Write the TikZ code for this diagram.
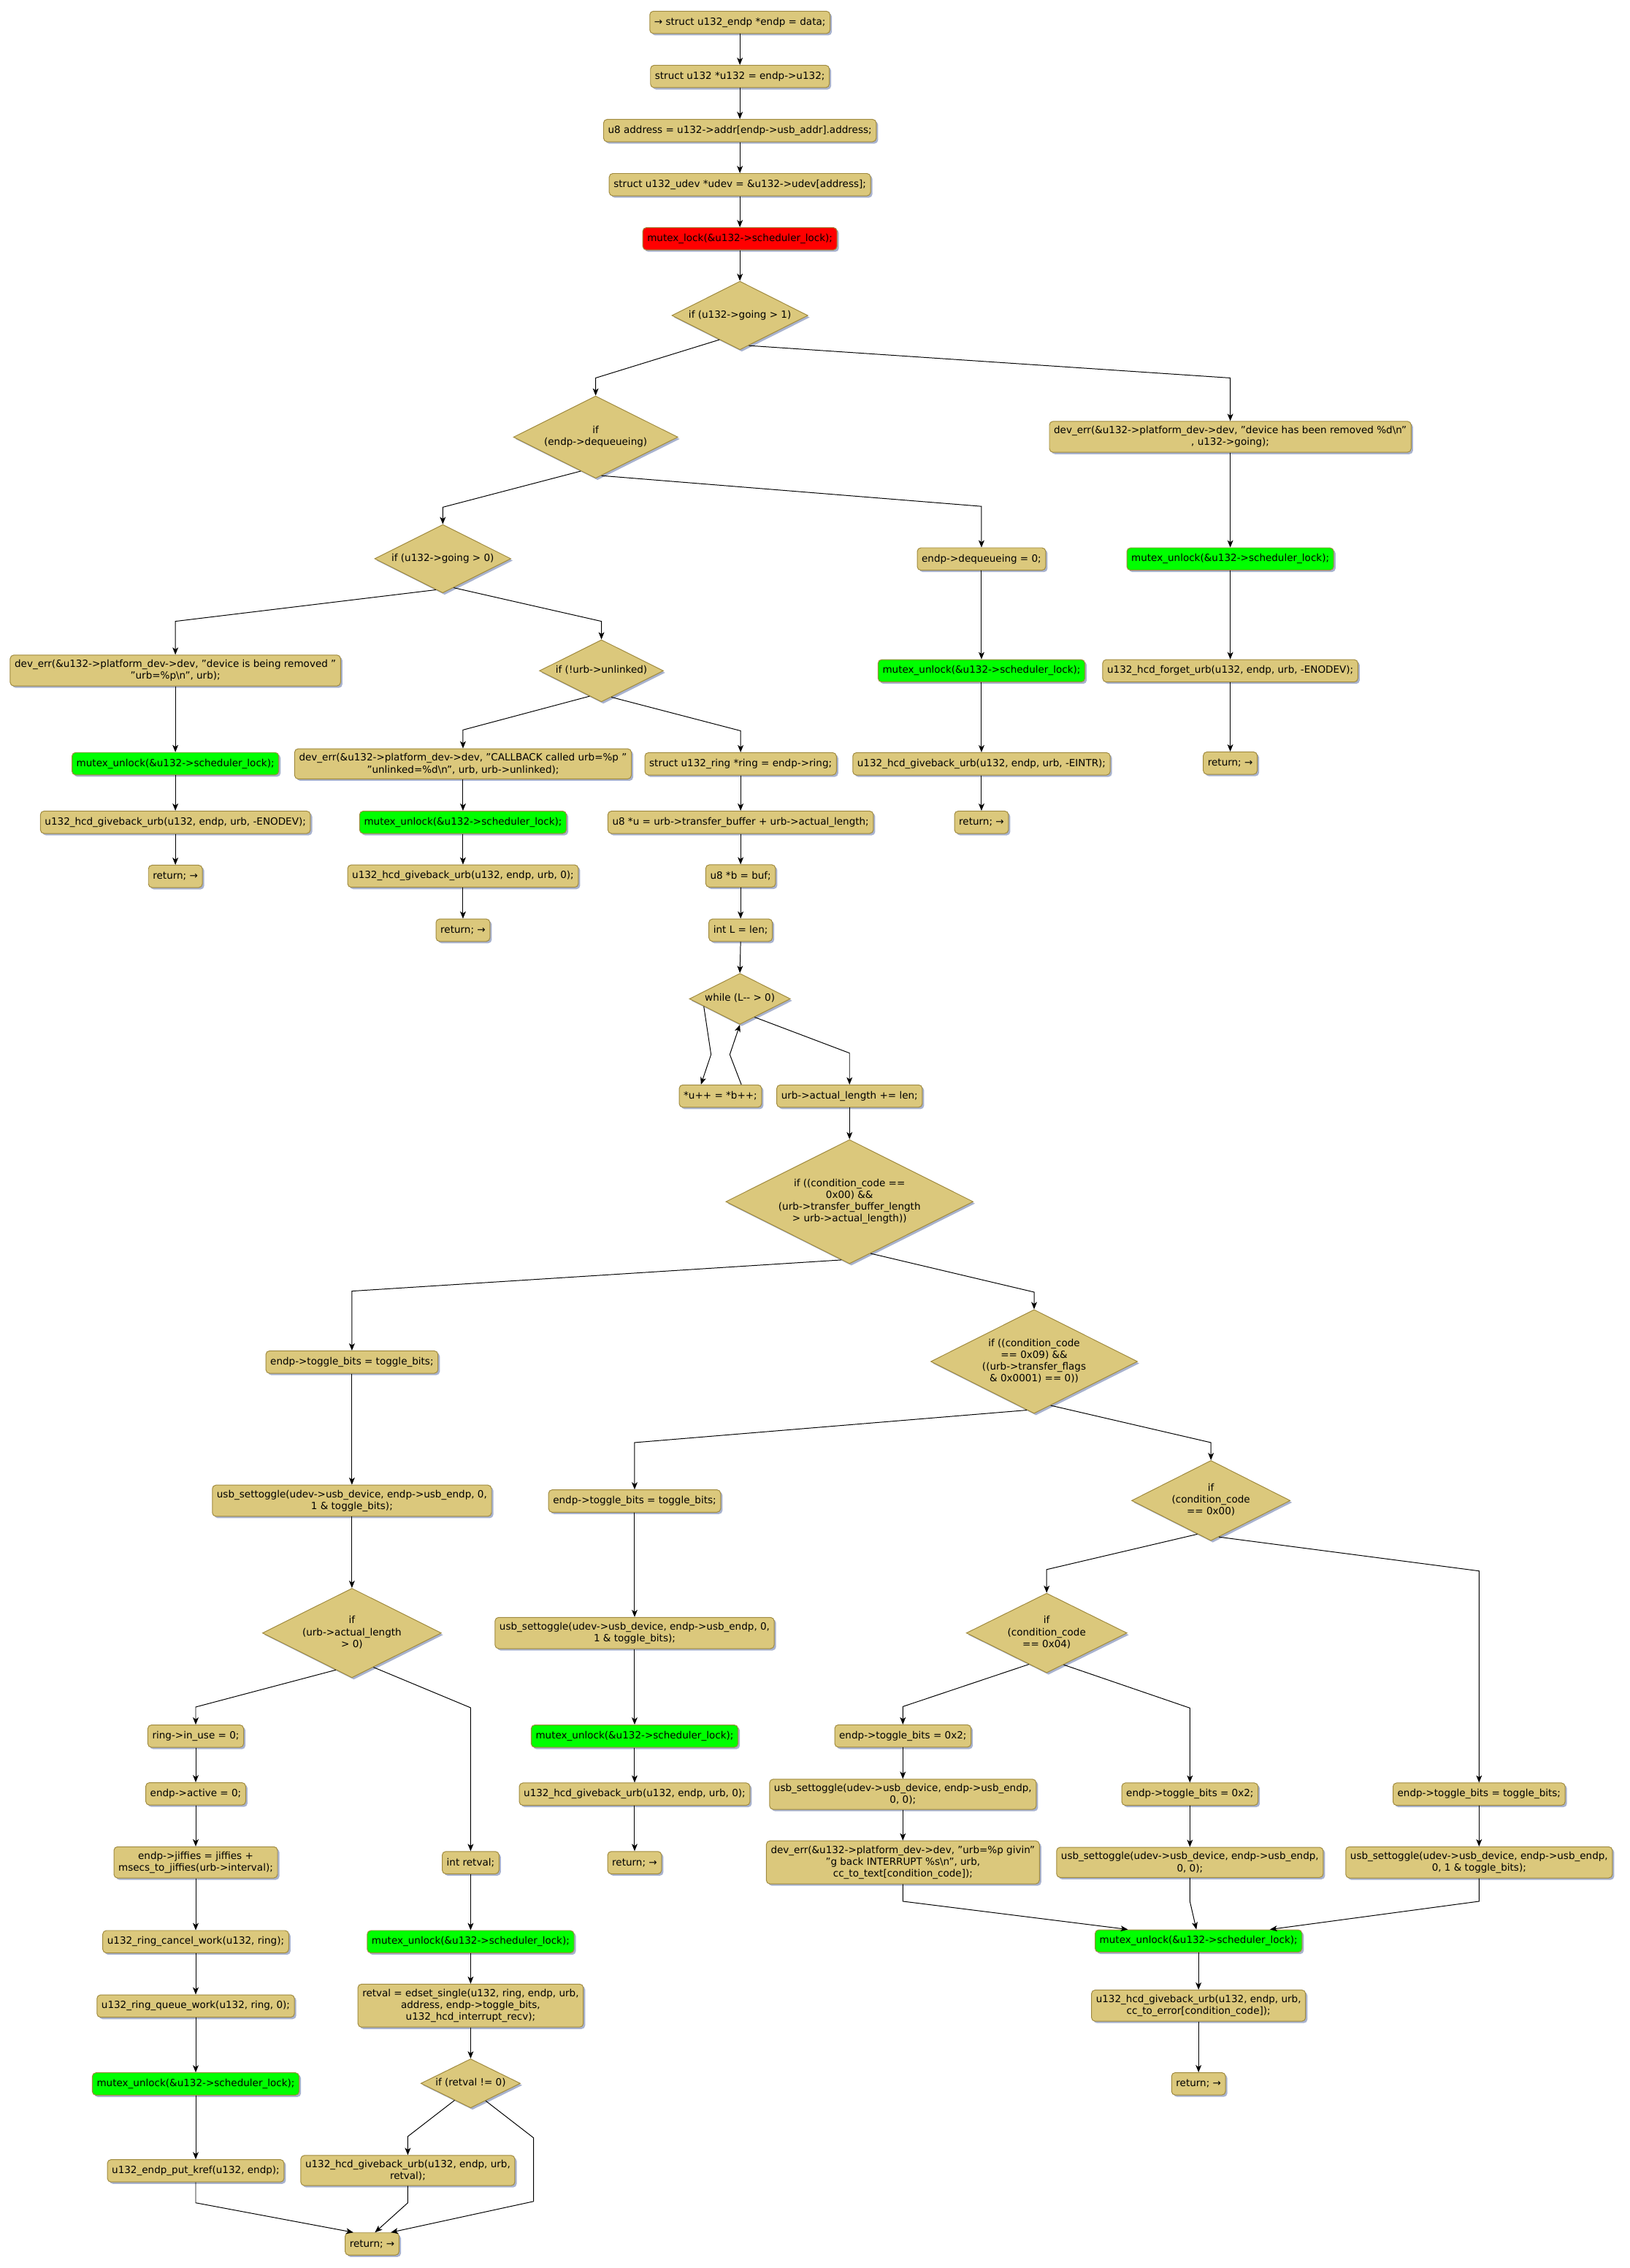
\documentclass[tikz,border=0pt]{standalone}
\usepackage{fontspec}
\setmainfont{DejaVu Sans}
\usetikzlibrary{shapes.geometric,shadows,arrows.meta,calc}
\definecolor{boxfill}{RGB}{219,200,124}
\definecolor{boxline}{RGB}{160,138,62}
\definecolor{shade}{RGB}{168,178,206}
\definecolor{lockred}{RGB}{255,0,0}
\definecolor{unlockgreen}{RGB}{0,255,0}
\newcommand{\dtxt}[1]{\makebox[0pt]{\smash{\raisebox{-0.27em}{\begin{tabular}{@{}c@{}}#1\end{tabular}}}}}
\begin{document}
\begin{tikzpicture}[x=1pt,y=-1pt,
  box/.style={draw=boxline, fill=boxfill, rounded corners=2.5pt, line width=0.5pt,
    inner xsep=3.1pt, inner ysep=3.3pt, minimum height=15.5pt, align=center,
    font=\fontsize{6.85}{8.2}\selectfont,
    drop shadow={shadow xshift=1.3pt,shadow yshift=-1.3pt,fill=shade,opacity=1}},
  gbox/.style={box, fill=unlockgreen},
  rbox/.style={box, fill=lockred},
  dia/.style={shape=diamond, draw=boxline, fill=boxfill, line width=0.5pt, inner sep=0pt,
    font=\fontsize{6.85}{8.2}\selectfont,
    drop shadow={shadow xshift=1.3pt,shadow yshift=-1.3pt,fill=shade,opacity=1}},
  arr/.style={-{Stealth[length=5pt,width=4pt,inset=1.3pt]}, line width=0.5pt, black}]
\useasboundingbox (0,0) rectangle (1130.1,1572.2);

% top chain
\node[box] (n1) at (513,15.5) {→ struct u132\_endp *endp = data;};
\node[box] (n2) at (513,53) {struct u132 *u132 = endp->u132;};
\node[box] (n3) at (513,90.5) {u8 address = u132->addr[endp->usb\_addr].address;};
\node[box] (n4) at (513,128) {struct u132\_udev *udev = \&u132->udev[address];};
\node[rbox] (n5) at (513,165.5) {mutex\_lock(\&u132->scheduler\_lock);};
\node[dia, minimum width=94.3pt, minimum height=47.5pt] (d1) at (513,218.7) {\dtxt{if (u132->going > 1)}};

% right branch
\node[box] (r1) at (853,302.8) {dev\_err(\&u132->platform\_dev->dev, "device has been removed \%d\textbackslash n"\\ , u132->going);};
\node[gbox] (r2) at (853,387.5) {mutex\_unlock(\&u132->scheduler\_lock);};
\node[box] (r3) at (853,465) {u132\_hcd\_forget\_urb(u132, endp, urb, -ENODEV);};
\node[box] (r4) at (853,529) {return; →};

\node[dia, minimum width=114pt, minimum height=57pt] (d2) at (413,303) {\dtxt{if\\(endp->dequeueing)}};

\node[box] (q1) at (680.5,387.5) {endp->dequeueing = 0;};
\node[gbox] (q2) at (680.5,465) {mutex\_unlock(\&u132->scheduler\_lock);};
\node[box] (q3) at (680.5,529.5) {u132\_hcd\_giveback\_urb(u132, endp, urb, -EINTR);};
\node[box] (q4) at (680.5,570) {return; →};

\node[dia, minimum width=94.5pt, minimum height=47.4pt] (d3) at (307,387.3) {\dtxt{if (u132->going > 0)}};

\node[box] (l1) at (121.6,464.8) {dev\_err(\&u132->platform\_dev->dev, "device is being removed "\\"urb=\%p\textbackslash n", urb);};
\node[gbox] (l2) at (121.6,529.4) {mutex\_unlock(\&u132->scheduler\_lock);};
\node[box] (l3) at (121.6,570) {u132\_hcd\_giveback\_urb(u132, endp, urb, -ENODEV);};
\node[box] (l4) at (121.6,607.5) {return; →};

\node[dia, minimum width=86pt, minimum height=43pt] (d4) at (417,465) {\dtxt{if (!urb->unlinked)}};

\node[box] (m1) at (321,529.5) {dev\_err(\&u132->platform\_dev->dev, "CALLBACK called urb=\%p "\\"unlinked=\%d\textbackslash n", urb, urb->unlinked);};
\node[gbox] (m2) at (321,570) {mutex\_unlock(\&u132->scheduler\_lock);};
\node[box] (m3) at (321,607.3) {u132\_hcd\_giveback\_urb(u132, endp, urb, 0);};
\node[box] (m4) at (321,644.8) {return; →};

\node[box] (s1) at (513.5,529.5) {struct u132\_ring *ring = endp->ring;};
\node[box] (s2) at (513.5,570) {u8 *u = urb->transfer\_buffer + urb->actual\_length;};
\node[box] (s3) at (513.5,607.2) {u8 *b = buf;};
\node[box] (s4) at (513.5,644.8) {int L = len;};
\node[dia, minimum width=70pt, minimum height=35.3pt] (w1) at (513,692.4) {\dtxt{while (L-{}- > 0)}};
\node[box] (s5) at (499.5,759.8) {*u++ = *b++;};
\node[box] (s6) at (589,759.8) {urb->actual\_length += len;};

\node[dia, minimum width=171.5pt, minimum height=86pt] (d5) at (589,833) {\dtxt{if ((condition\_code ==\\0x00) \&\&\\(urb->transfer\_buffer\_length\\> urb->actual\_length))}};
\node[dia, minimum width=143.3pt, minimum height=72pt] (d6) at (717,943.8) {\dtxt{if ((condition\_code\\== 0x09) \&\&\\((urb->transfer\_flags\\\& 0x0001) == 0))}};

% left lower
\node[box] (a1) at (244,944.2) {endp->toggle\_bits = toggle\_bits;};
\node[box] (a2) at (244,1040.3) {usb\_settoggle(udev->usb\_device, endp->usb\_endp, 0,\\1 \& toggle\_bits);};
\node[dia, minimum width=124pt, minimum height=62pt] (d7) at (244,1132) {\dtxt{if\\(urb->actual\_length\\> 0)}};

\node[box] (b1) at (135.7,1203.5) {ring->in\_use = 0;};
\node[box] (b2) at (135.7,1243.5) {endp->active = 0;};
\node[box] (b3) at (135.7,1291) {endp->jiffies = jiffies +\\msecs\_to\_jiffies(urb->interval);};
\node[box] (b4) at (135.7,1346) {u132\_ring\_cancel\_work(u132, ring);};
\node[box] (b5) at (135.7,1390.6) {u132\_ring\_queue\_work(u132, ring, 0);};
\node[gbox] (b6) at (135.7,1444.6) {mutex\_unlock(\&u132->scheduler\_lock);};
\node[box] (b7) at (135.7,1504.8) {u132\_endp\_put\_kref(u132, endp);};

\node[box] (c1) at (326.3,1291.2) {int retval;};
\node[gbox] (c2) at (326.3,1346) {mutex\_unlock(\&u132->scheduler\_lock);};
\node[box] (c3) at (326.3,1390.3) {retval = edset\_single(u132, ring, endp, urb,\\address, endp->toggle\_bits,\\u132\_hcd\_interrupt\_recv);};
\node[dia, minimum width=69pt, minimum height=34pt] (d8) at (326.3,1444.2) {\dtxt{if (retval != 0)}};
\node[box] (c4) at (282.75,1504.6) {u132\_hcd\_giveback\_urb(u132, endp, urb,\\retval);};
\node[box] (ret) at (258,1555.5) {return; →};

% middle lower
\node[box] (e1) at (440,1040.5) {endp->toggle\_bits = toggle\_bits;};
\node[box] (e2) at (440,1132) {usb\_settoggle(udev->usb\_device, endp->usb\_endp, 0,\\1 \& toggle\_bits);};
\node[gbox] (e3) at (440,1203.5) {mutex\_unlock(\&u132->scheduler\_lock);};
\node[box] (e4) at (440,1243.7) {u132\_hcd\_giveback\_urb(u132, endp, urb, 0);};
\node[box] (e5) at (440,1291.2) {return; →};

% right lower
\node[dia, minimum width=110pt, minimum height=55.6pt] (d9) at (839.6,1040.2) {\dtxt{if\\(condition\_code\\== 0x00)}};
\node[dia, minimum width=111.4pt, minimum height=55.2pt] (d10) at (725.7,1132) {\dtxt{if\\(condition\_code\\== 0x04)}};

\node[box] (g1) at (626,1203.4) {endp->toggle\_bits = 0x2;};
\node[box] (g2) at (626,1243.8) {usb\_settoggle(udev->usb\_device, endp->usb\_endp,\\0, 0);};
\node[box] (g3) at (626,1291) {dev\_err(\&u132->platform\_dev->dev, "urb=\%p givin"\\"g back INTERRUPT \%s\textbackslash n", urb,\\cc\_to\_text[condition\_code]);};
\node[box] (h1) at (825,1243.7) {endp->toggle\_bits = 0x2;};
\node[box] (h2) at (825,1291) {usb\_settoggle(udev->usb\_device, endp->usb\_endp,\\0, 0);};
\node[box] (f1) at (1025.5,1243.7) {endp->toggle\_bits = toggle\_bits;};
\node[box] (f2) at (1025.5,1291) {usb\_settoggle(udev->usb\_device, endp->usb\_endp,\\0, 1 \& toggle\_bits);};
\node[gbox] (k1) at (831,1345.5) {mutex\_unlock(\&u132->scheduler\_lock);};
\node[box] (k2) at (831,1390.3) {u132\_hcd\_giveback\_urb(u132, endp, urb,\\cc\_to\_error[condition\_code]);};
\node[box] (k3) at (831,1444.5) {return; →};

% loop bend coordinates
\coordinate (wl) at (493,731);
\coordinate (wb) at (506,731);
\coordinate (dr1) at (370,1482);
\coordinate (dr2) at (370,1526);

% connectors: straight chains
\foreach \a/\b in {n1/n2,n2/n3,n3/n4,n4/n5,n5/d1,
  r1/r2,r2/r3,r3/r4, q1/q2,q2/q3,q3/q4, l1/l2,l2/l3,l3/l4, m1/m2,m2/m3,m3/m4,
  s1/s2,s2/s3,s3/s4,s4/w1, s6/d5, a1/a2,a2/d7,
  b1/b2,b2/b3,b3/b4,b4/b5,b5/b6,b6/b7, c1/c2,c2/c3,c3/d8,
  e1/e2,e2/e3,e3/e4,e4/e5, g1/g2,g2/g3, h1/h2, f1/f2, k1/k2,k2/k3}
  \draw[arr] (\a.south) -- (\b.north);

% branches
\draw[arr] ($(d1.south)!.3!(d1.west)$) -- (d2.north |- 0,262) -- (d2.north);
\draw[arr] ($(d1.south)!.13!(d1.east)$) -- (r1.north |- 0,262) -- (r1.north);
\draw[arr] ($(d2.south)!.18!(d2.west)$) -- (d3.north |- 0,351.6) -- (d3.north);
\draw[arr] ($(d2.south)!.07!(d2.east)$) -- (q1.north |- 0,351) -- (q1.north);
\draw[arr] ($(d3.south)!.1!(d3.west)$) -- (l1.north |- 0,430.7) -- (l1.north);
\draw[arr] ($(d3.south)!.16!(d3.east)$) -- (d4.north |- 0,430.7) -- (d4.north);
\draw[arr] ($(d4.south)!.19!(d4.west)$) -- (m1.north |- 0,506) -- (m1.north);
\draw[arr] ($(d4.south)!.16!(d4.east)$) -- (s1.north |- 0,506.6) -- (s1.north);

\draw[arr] ($(w1.south)!.71!(w1.west)$) -- (wl) -- ([xshift=-13.5pt]s5.north);
\draw[arr] ([xshift=14.5pt]s5.north) -- (wb) -- (w1.south);
\draw[arr] ($(w1.south)!.29!(w1.east)$) -- (s6.north |- 0,730) -- (s6.north);

\draw[arr] ($(d5.south)!.066!(d5.west)$) -- (a1.north |- 0,895) -- (a1.north);
\draw[arr] ($(d5.south)!.17!(d5.east)$) -- (d6.north |- 0,895.7) -- (d6.north);
\draw[arr] ($(d6.south)!.07!(d6.west)$) -- (e1.north |- 0,1000) -- (e1.north);
\draw[arr] ($(d6.south)!.16!(d6.east)$) -- (d9.north |- 0,1000) -- (d9.north);
\draw[arr] ($(d9.south)!.17!(d9.west)$) -- (d10.north |- 0,1088) -- (d10.north);
\draw[arr] ($(d9.south)!.1!(d9.east)$) -- (f1.north |- 0,1089) -- (f1.north);
\draw[arr] ($(d10.south)!.22!(d10.west)$) -- (g1.north |- 0,1183) -- (g1.north);
\draw[arr] ($(d10.south)!.21!(d10.east)$) -- (h1.north |- 0,1184) -- (h1.north);

\draw[arr] (g3.south) -- (g3.south |- 0,1318) -- ([xshift=-49pt]k1.north);
\draw[arr] (h2.south) -- (h2.south |- 0,1318) -- ([xshift=-1.5pt]k1.north);
\draw[arr] (f2.south) -- (f2.south |- 0,1318) -- ([xshift=49.5pt]k1.north);

\draw[arr] ($(d7.south)!.18!(d7.west)$) -- (b1.north |- 0,1183.3) -- (b1.north);
\draw[arr] ($(d7.south)!.24!(d7.east)$) -- (c1.north |- 0,1183.8) -- (c1.north);
\draw[arr] ($(d8.south)!.32!(d8.west)$) -- (c4.north |- 0,1481) -- (c4.north);
\draw[arr] ($(d8.south)!.3!(d8.east)$) -- (dr1) -- (dr2) -- ([xshift=13pt]ret.north);
\draw[arr] (b7.south) -- (b7.south |- 0,1527) -- ([xshift=-13pt]ret.north);
\draw[arr] (c4.south) -- (c4.south |- 0,1527) -- ([xshift=2pt]ret.north);
\end{tikzpicture}
\end{document}
